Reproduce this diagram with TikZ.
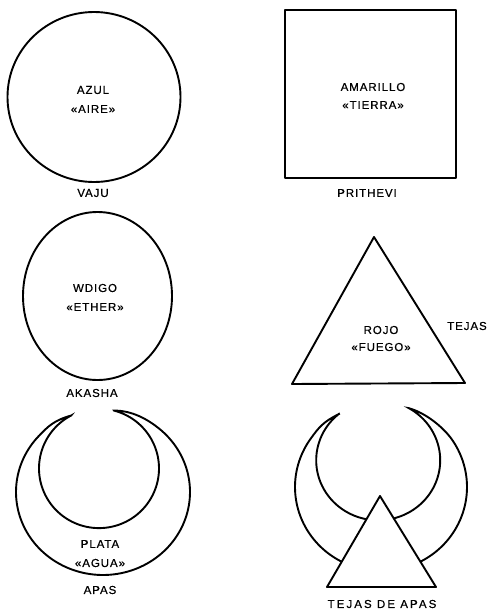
\documentclass[tikz,border=0pt]{standalone}
\usepackage{fontspec}
\setmainfont{Liberation Sans}[LetterSpace=8, FakeBold=0.6]
\begin{document}
\begin{tikzpicture}[x=1pt,y=-1pt,
  shape line/.style={line width=1.9pt, line join=round, line cap=round},
  lbl/.style={inner sep=0pt, font=\fontsize{11.5}{13}\selectfont}]
\useasboundingbox (0,0) rectangle (491,611);
% Vaju
\draw[shape line] (94,97) ellipse [x radius=86.5, y radius=85];
\node[lbl] (azul) at (93,90) {AZUL};
\node[lbl] (aire) at (93,109) {«AIRE»};
\node[lbl] (vaju) at (93,193) {VAJU};
% Prithevi
\draw[shape line] (285,10) rectangle (456,178);
\node[lbl] (amarillo) at (373,87) {AMARILLO};
\node[lbl] (tierra) at (373,105) {«TIERRA»};
\node[lbl] (prithevi) at (367,193) {PRITHEVI};
% Akasha
\draw[shape line] (97.5,296) ellipse [x radius=74.5, y radius=84];
\node[lbl] (wdigo) at (95,288) {WDIGO};
\node[lbl] (ether) at (95,307) {«ETHER»};
\node[lbl] (akasha) at (92,393) {AKASHA};
% Tejas
\draw[shape line] (374,237) -- (292,384) -- (465,383) -- cycle;
\node[lbl] (rojo) at (381,330) {ROJO};
\node[lbl] (fuego) at (381,347) {«FUEGO»};
\node[lbl] (tejas) at (467,326) {TEJAS};
% Apas
\draw[shape line, line join=miter]
  (71.2,415.5) .. controls (53.9,420.4) and (48,426.3) .. (38.4,436.5)
  -- plot[domain=222:-50, samples=120] ({103+87*cos(\x)},{492+83*sin(\x)})
  .. controls (148,419.6) and (132.1,410.4) .. (114.1,410.6)
  -- plot[domain=-75.4:242.4, samples=120] ({99+60*cos(\x)},{468.4+59.7*sin(\x)})
  -- cycle;
\node[lbl] (plata) at (100,544) {PLATA};
\node[lbl] (agua) at (100,563) {«AGUA»};
\node[lbl] (apas) at (100,590) {APAS};
% Tejas de Apas
\draw[shape line, line join=miter]
  (339,414) .. controls (322.9,422) and (318.8,427.4) .. (310.6,438.8)
  -- plot[domain=215:-35, samples=120] ({381+86*cos(\x)},{487+84*sin(\x)})
  .. controls (443.2,427.4) and (426.3,413.2) .. (409,408.2)
  -- plot[domain=-60.3:230.7, samples=120] ({378.2+62*cos(\x)},{460.3+60*sin(\x)})
  -- cycle;
\draw[shape line, fill=white] (380,496) -- (327,587) -- (436,587) -- cycle;
\node[lbl] (tejasapas) at (382,604) {\addfontfeatures{LetterSpace=18}TEJAS DE APAS};
\end{tikzpicture}
\end{document}
